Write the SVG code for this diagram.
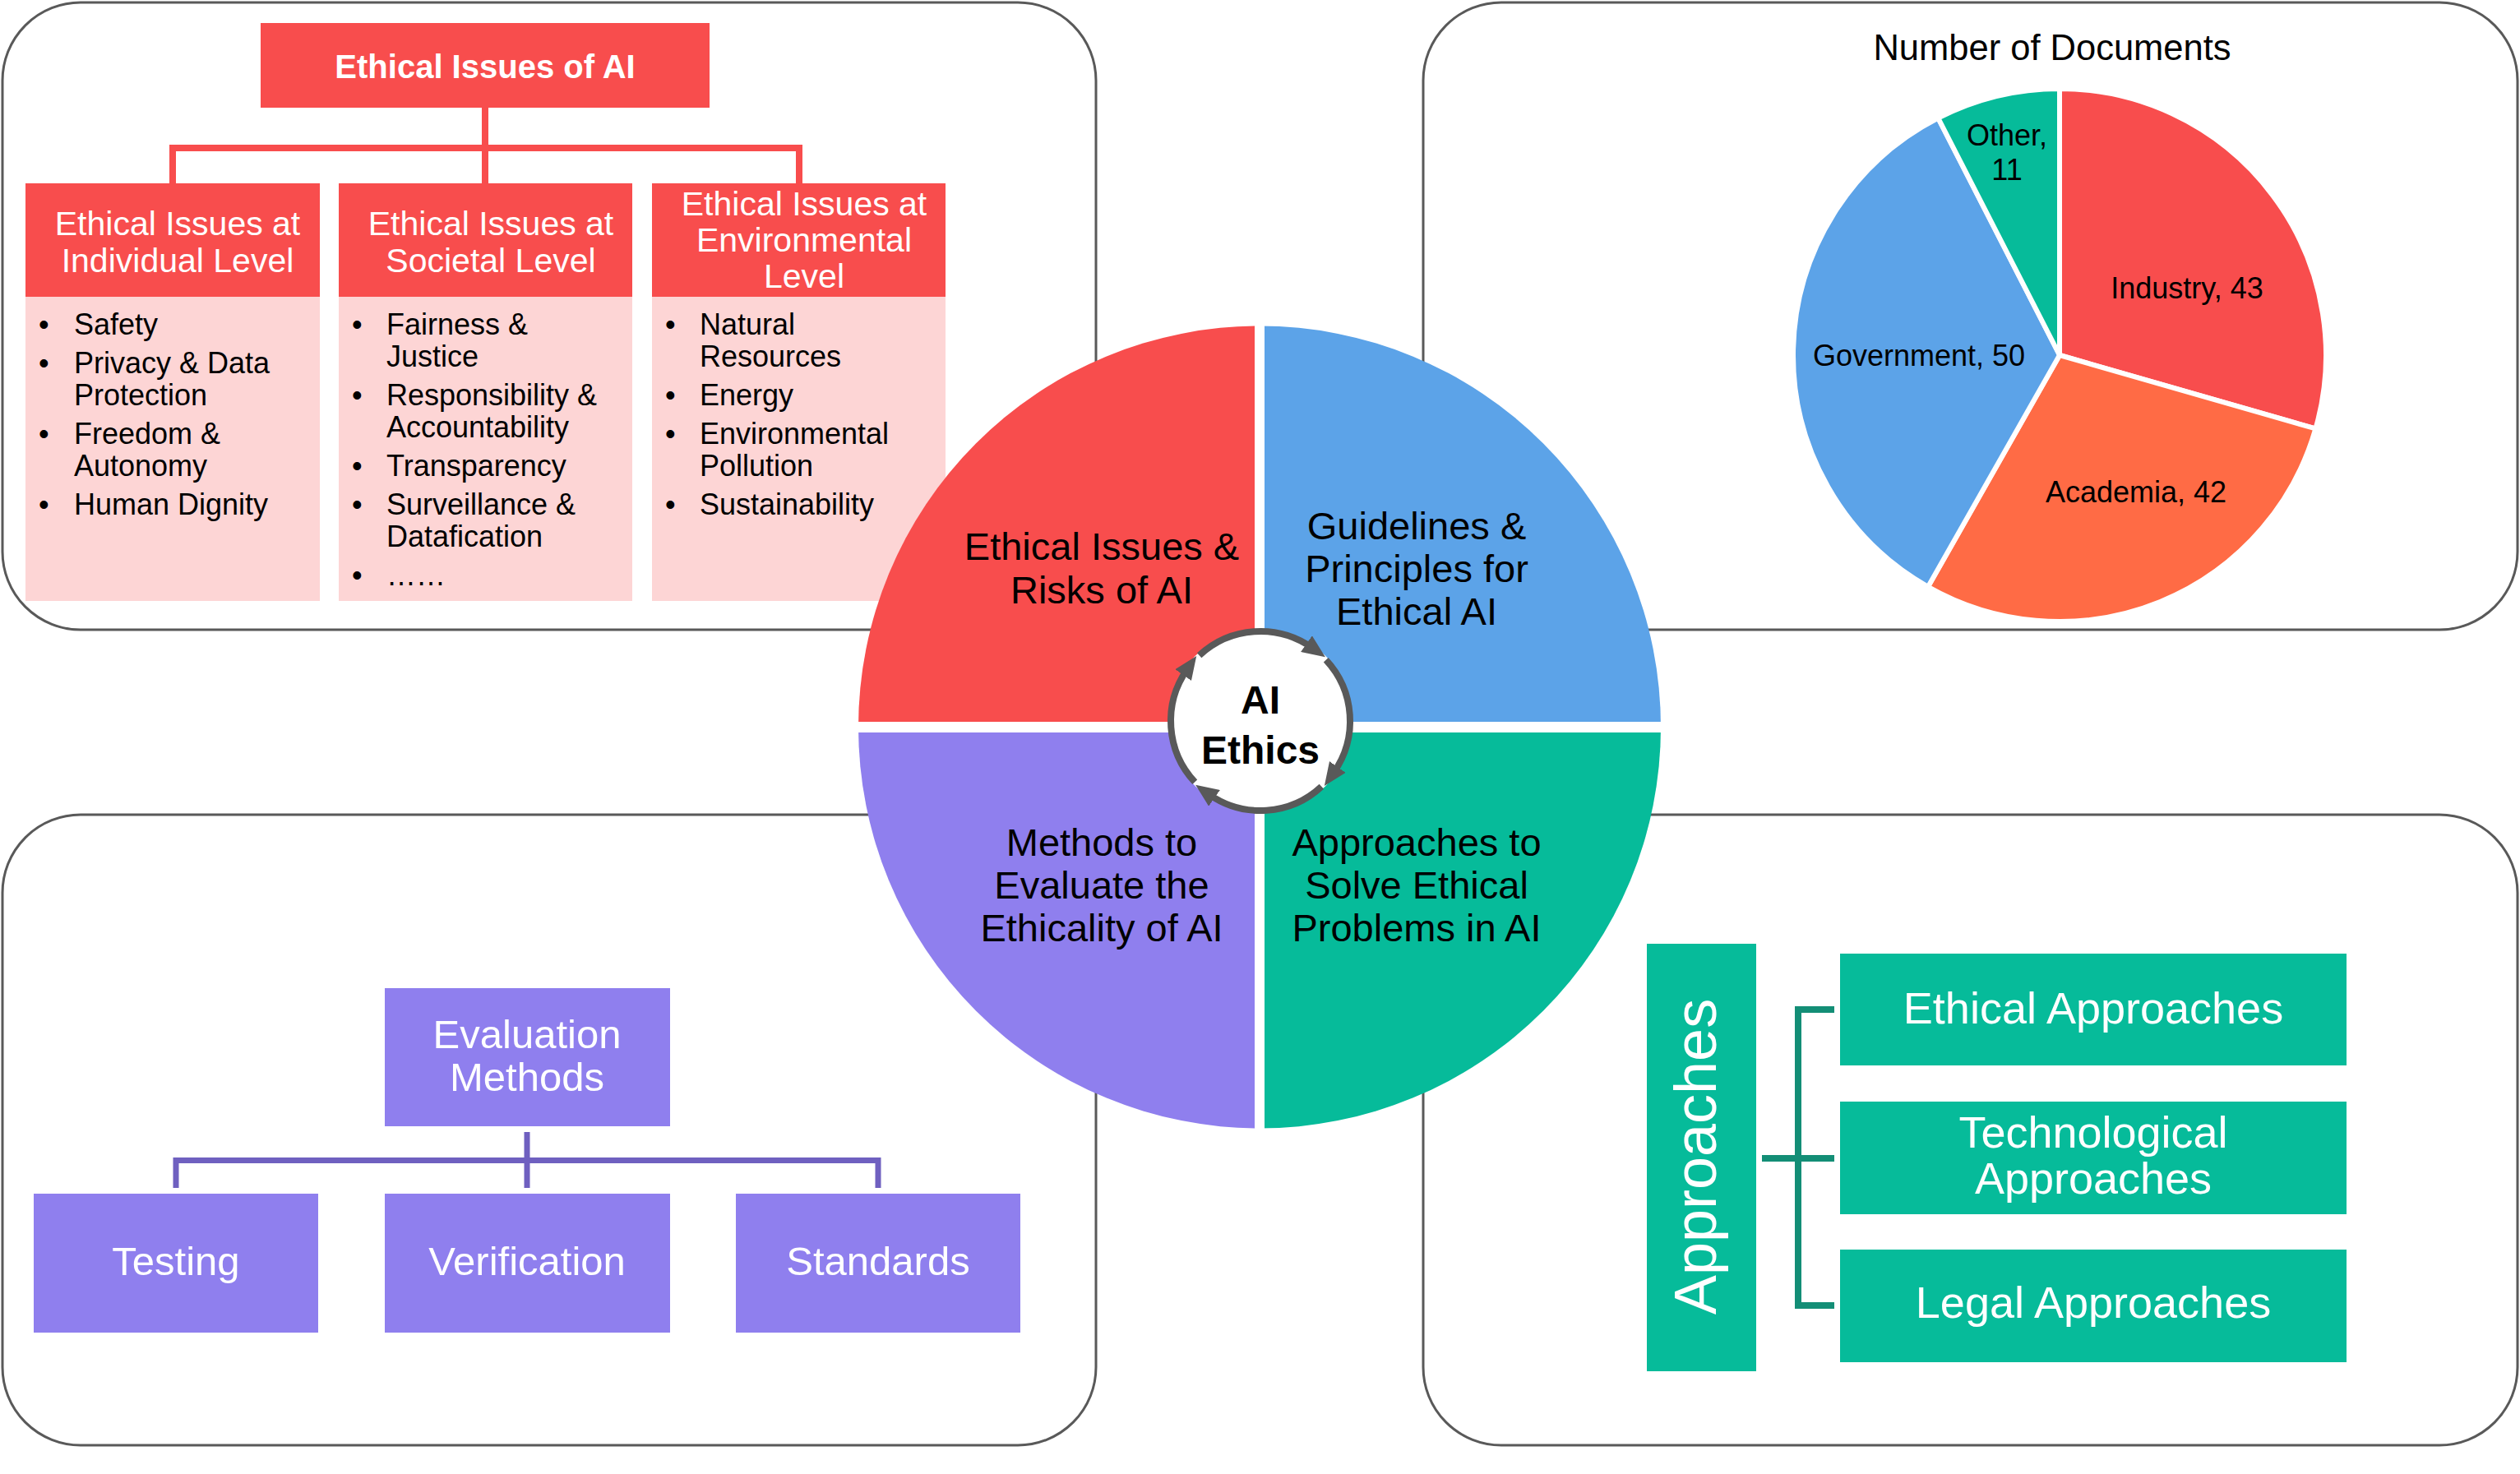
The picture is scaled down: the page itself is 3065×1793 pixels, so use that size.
<svg xmlns="http://www.w3.org/2000/svg" width="3065" height="1793" viewBox="0 0 3065 1793">
<style>
text{font-family:"Liberation Sans",Arial,sans-serif}
.panel{fill:#fff;stroke:#595959;stroke-width:3}
.red{fill:#F84D4D}
.pink{fill:#FDD5D5}
.hdr{fill:#fff;font-size:41px;text-anchor:middle}
.bul{fill:#000;font-size:36px}
.pie{stroke:#fff;stroke-width:6}
.plab{fill:#000;font-size:36px;text-anchor:middle}
.quad{fill:#000;font-size:47px;text-anchor:middle}
.pur{fill:#8F7FEE}
.pw{fill:#fff;font-size:49px;text-anchor:middle}
.teal{fill:#06BB9A}
.tw{fill:#fff;font-size:54px;text-anchor:middle}
.cred{fill:none;stroke:#F84D4D;stroke-width:8}
.cpur{fill:none;stroke:#6F60C0;stroke-width:7}
.cteal{fill:none;stroke:#138E76;stroke-width:8}
.ring{fill:none;stroke:#595959;stroke-width:8}
</style>
<defs>
<marker id="ah" viewBox="-8 -12 28 24" refX="0" refY="0" markerWidth="28" markerHeight="24" markerUnits="userSpaceOnUse" orient="auto">
<path d="M-8,-12 L20,0 L-8,12 Z" fill="#595959"/>
</marker>
</defs>
<rect width="3065" height="1793" fill="#fff"/>

<g id="panels">
<rect class="panel" x="3" y="3" width="1330" height="763" rx="95"/>
<rect class="panel" x="1731" y="3" width="1331" height="763" rx="95"/>
<rect class="panel" x="3" y="991" width="1330" height="767" rx="95"/>
<rect class="panel" x="1731" y="991" width="1331" height="767" rx="95"/>
</g>

<g id="connectors">
<path class="cred" d="M590,131 V223 M210,223 V180 H972 V223"/>
<path class="cpur" d="M641,1377 V1445 M214,1445 V1411.5 H1068 V1445"/>
<path class="cteal" d="M2143,1409 H2231 M2231,1228 H2187 V1588 H2231"/>
</g>

<g id="ethical-issues-title">
<rect class="red" x="317" y="28" width="546" height="103"/>
<text x="590" y="95" fill="#fff" font-size="40" font-weight="bold" text-anchor="middle">Ethical Issues of AI</text>
</g>

<g id="individual-level">
<rect class="red" x="31" y="223" width="358" height="138"/>
<rect class="pink" x="31" y="361" width="358" height="370"/>
<text class="hdr" x="216" y="286">Ethical Issues at</text>
<text class="hdr" x="216" y="331">Individual Level</text>
<text class="bul"><tspan x="47" y="407">•</tspan><tspan x="90" y="407">Safety</tspan><tspan x="47" y="454">•</tspan><tspan x="90" y="454">Privacy &amp; Data</tspan><tspan x="90" y="493">Protection</tspan><tspan x="47" y="540">•</tspan><tspan x="90" y="540">Freedom &amp;</tspan><tspan x="90" y="579">Autonomy</tspan><tspan x="47" y="626">•</tspan><tspan x="90" y="626">Human Dignity</tspan></text>
</g>

<g id="societal-level">
<rect class="red" x="412" y="223" width="357" height="138"/>
<rect class="pink" x="412" y="361" width="357" height="370"/>
<text class="hdr" x="597" y="286">Ethical Issues at</text>
<text class="hdr" x="597" y="331">Societal Level</text>
<text class="bul"><tspan x="428" y="407">•</tspan><tspan x="470" y="407">Fairness &amp;</tspan><tspan x="470" y="446">Justice</tspan><tspan x="428" y="493">•</tspan><tspan x="470" y="493">Responsibility &amp;</tspan><tspan x="470" y="532">Accountability</tspan><tspan x="428" y="579">•</tspan><tspan x="470" y="579">Transparency</tspan><tspan x="428" y="626">•</tspan><tspan x="470" y="626">Surveillance &amp;</tspan><tspan x="470" y="665">Datafication</tspan><tspan x="428" y="712">•</tspan><tspan x="470" y="712">……</tspan></text>
</g>

<g id="environmental-level">
<rect class="red" x="793" y="223" width="357" height="138"/>
<rect class="pink" x="793" y="361" width="357" height="370"/>
<text class="hdr" x="978" y="262">Ethical Issues at</text>
<text class="hdr" x="978" y="306">Environmental</text>
<text class="hdr" x="978" y="350">Level</text>
<text class="bul"><tspan x="809" y="407">•</tspan><tspan x="851" y="407">Natural</tspan><tspan x="851" y="446">Resources</tspan><tspan x="809" y="493">•</tspan><tspan x="851" y="493">Energy</tspan><tspan x="809" y="540">•</tspan><tspan x="851" y="540">Environmental</tspan><tspan x="851" y="579">Pollution</tspan><tspan x="809" y="626">•</tspan><tspan x="851" y="626">Sustainability</tspan></text>
</g>

<g id="pie-chart">
<text x="2496" y="73" fill="#000" font-size="43.5" text-anchor="middle">Number of Documents</text>
<path class="pie" fill="#F84D4D" d="M2505,432 L2505,108 A324,324 0 0 1 2816.41,521.45 Z"/>
<path class="pie" fill="#FF6B45" d="M2505,432 L2816.41,521.45 A324,324 0 0 1 2345.02,713.75 Z"/>
<path class="pie" fill="#5CA3E8" d="M2505,432 L2345.02,713.75 A324,324 0 0 1 2357.29,143.63 Z"/>
<path class="pie" fill="#06BB9A" d="M2505,432 L2357.29,143.63 A324,324 0 0 1 2505,108 Z"/>
<text class="plab" x="2660" y="363">Industry, 43</text>
<text class="plab" x="2598" y="611">Academia, 42</text>
<text class="plab" x="2334" y="445">Government, 50</text>
<text class="plab" x="2441" y="177">Other,</text>
<text class="plab" x="2441" y="219">11</text>
</g>

<g id="ethics-wheel">
<path fill="#F84D4D" d="M1532,884.5 L1044,884.5 A488,488 0 0 1 1532,396.5 Z"/>
<path fill="#5CA3E8" d="M1532,884.5 L1532,396.5 A488,488 0 0 1 2020,884.5 Z"/>
<path fill="#06BB9A" d="M1532,884.5 L2020,884.5 A488,488 0 0 1 1532,1372.5 Z"/>
<path fill="#8F7FEE" d="M1532,884.5 L1532,1372.5 A488,488 0 0 1 1044,884.5 Z"/>
<path d="M1532,390 V1380" stroke="#fff" stroke-width="12"/>
<path d="M1038,884.5 H2026" stroke="#fff" stroke-width="13"/>
<text class="quad" x="1340" y="681">Ethical Issues &amp;</text>
<text class="quad" x="1340" y="734">Risks of AI</text>
<text class="quad" x="1723" y="656">Guidelines &amp;</text>
<text class="quad" x="1723" y="708">Principles for</text>
<text class="quad" x="1723" y="760">Ethical AI</text>
<text class="quad" x="1340" y="1041">Methods to</text>
<text class="quad" x="1340" y="1093">Evaluate the</text>
<text class="quad" x="1340" y="1145">Ethicality of AI</text>
<text class="quad" x="1723" y="1041">Approaches to</text>
<text class="quad" x="1723" y="1093">Solve Ethical</text>
<text class="quad" x="1723" y="1145">Problems in AI</text>
</g>

<g id="ai-ethics-center">
<circle cx="1533" cy="877" r="112" fill="#fff"/>
<path class="ring" marker-end="url(#ah)" d="M1458.66,797.28 A109,109 0 0 1 1595.52,787.71"/>
<path class="ring" marker-end="url(#ah)" d="M1612.72,802.66 A109,109 0 0 1 1622.29,939.52"/>
<path class="ring" marker-end="url(#ah)" d="M1607.34,956.72 A109,109 0 0 1 1470.48,966.29"/>
<path class="ring" marker-end="url(#ah)" d="M1453.28,951.34 A109,109 0 0 1 1443.71,814.48"/>
<text x="1533" y="868" fill="#000" font-size="48" font-weight="bold" text-anchor="middle">AI</text>
<text x="1533" y="929" fill="#000" font-size="48" font-weight="bold" text-anchor="middle">Ethics</text>
</g>

<g id="evaluation-methods">
<rect class="pur" x="468" y="1202" width="347" height="168"/>
<text class="pw" x="641" y="1275">Evaluation</text>
<text class="pw" x="641" y="1327">Methods</text>
</g>
<g id="testing">
<rect class="pur" x="41" y="1452" width="346" height="169"/>
<text class="pw" x="214" y="1551">Testing</text>
</g>
<g id="verification">
<rect class="pur" x="468" y="1452" width="347" height="169"/>
<text class="pw" x="641" y="1551">Verification</text>
</g>
<g id="standards">
<rect class="pur" x="895" y="1452" width="346" height="169"/>
<text class="pw" x="1068" y="1551">Standards</text>
</g>

<g id="approaches">
<rect class="teal" x="2003" y="1148" width="133" height="520"/>
<text transform="translate(2087,1407) rotate(-90)" fill="#fff" font-size="72" text-anchor="middle">Approaches</text>
</g>
<g id="ethical-approaches">
<rect class="teal" x="2238" y="1160" width="616" height="136"/>
<text class="tw" x="2546" y="1245">Ethical Approaches</text>
</g>
<g id="technological-approaches">
<rect class="teal" x="2238" y="1340" width="616" height="137"/>
<text class="tw" x="2546" y="1396">Technological</text>
<text class="tw" x="2546" y="1452">Approaches</text>
</g>
<g id="legal-approaches">
<rect class="teal" x="2238" y="1520" width="616" height="137"/>
<text class="tw" x="2546" y="1603">Legal Approaches</text>
</g>
</svg>
